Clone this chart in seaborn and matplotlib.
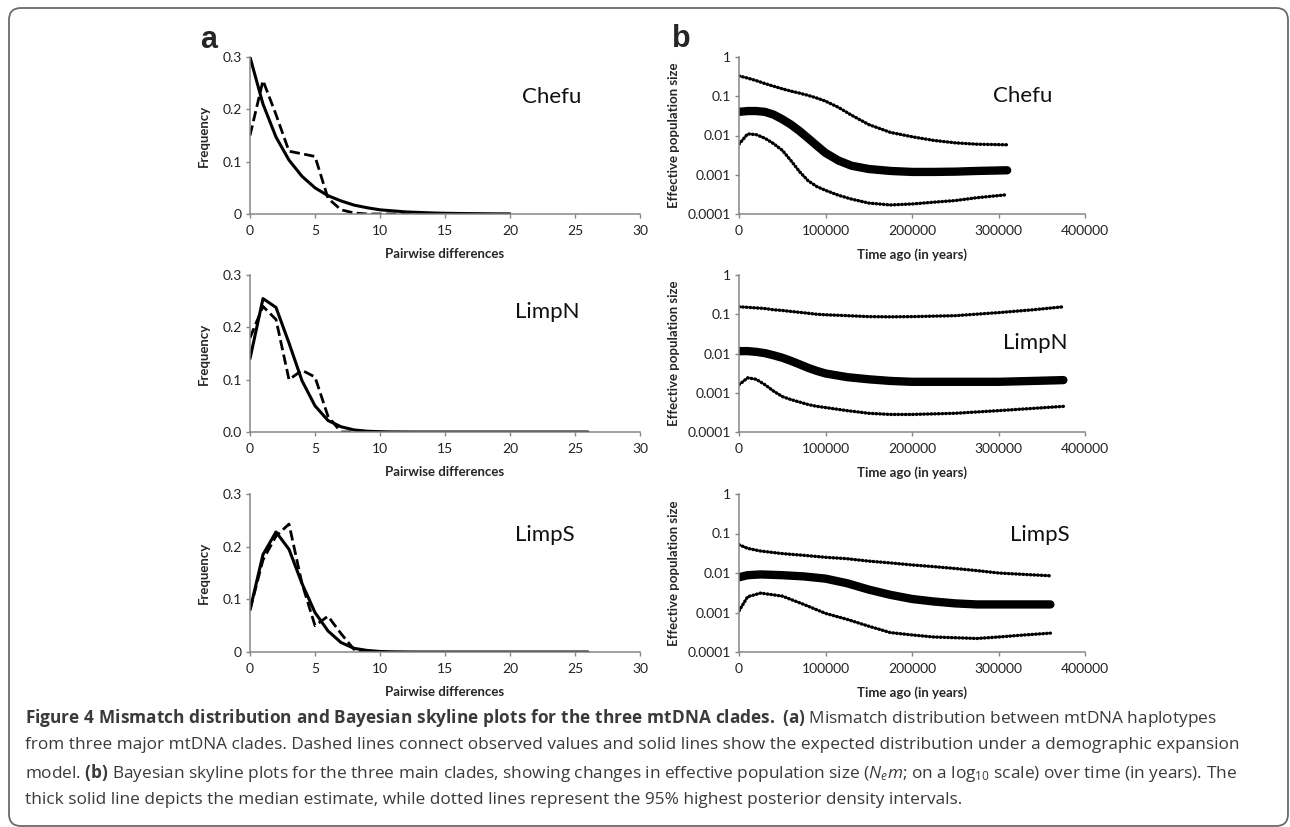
import matplotlib
matplotlib.use("Agg")
import matplotlib.pyplot as plt
import seaborn as sns
from matplotlib.patches import FancyBboxPatch
from matplotlib.ticker import NullLocator
from matplotlib.transforms import IdentityTransform

# ---- panel a: mismatch distributions (frequency per number of pairwise differences)
chefu_obs = [0.15, 0.255, 0.19, 0.12, 0.115, 0.11, 0.03, 0.008, 0.002, 0.0,
             0.0, 0.0, 0.0, 0.0, 0.0, 0.0]
chefu_exp = [0.30, 0.21, 0.147, 0.103, 0.072, 0.05, 0.035, 0.025, 0.017, 0.012,
             0.008, 0.006, 0.004, 0.003, 0.002, 0.0014, 0.001, 0.0007, 0.0005,
             0.0003, 0.0002]
limpn_obs = [0.18, 0.24, 0.215, 0.10, 0.118, 0.105, 0.03, 0.0, 0.0, 0.0, 0.0]
limpn_exp = [0.14, 0.255, 0.238, 0.17, 0.098, 0.05, 0.022, 0.01, 0.004, 0.0015,
             0.0006, 0.0002, 0.0001, 0.0, 0.0, 0.0, 0.0, 0.0, 0.0, 0.0, 0.0,
             0.0, 0.0, 0.0, 0.0, 0.0, 0.0]
limps_obs = [0.08, 0.175, 0.22, 0.243, 0.13, 0.05, 0.068, 0.035, 0.005, 0.0, 0.0]
limps_exp = [0.08, 0.185, 0.228, 0.195, 0.13, 0.075, 0.04, 0.018, 0.007, 0.003,
             0.001, 0.0004, 0.0001, 0.0, 0.0, 0.0, 0.0, 0.0, 0.0, 0.0, 0.0,
             0.0, 0.0, 0.0, 0.0, 0.0, 0.0]

# ---- panel b: Bayesian skyline (time ago in years, Ne*m)
chefu_t = [0, 10000, 20000, 30000, 40000, 50000, 60000, 70000, 80000, 90000,
           100000, 115000, 130000, 150000, 175000, 200000, 225000, 250000,
           275000, 310000]
chefu_hi = [0.33, 0.29, 0.25, 0.21, 0.18, 0.155, 0.135, 0.12, 0.105, 0.09,
            0.075, 0.052, 0.033, 0.019, 0.012, 0.0093, 0.0075, 0.0065, 0.006, 0.0058]
chefu_med = [0.04, 0.042, 0.042, 0.04, 0.034, 0.026, 0.019, 0.013, 0.0085, 0.0055,
             0.0036, 0.0023, 0.0017, 0.0014, 0.00125, 0.00118, 0.00118, 0.0012,
             0.00125, 0.0013]
chefu_lo = [0.006, 0.011, 0.0105, 0.0085, 0.0062, 0.0042, 0.0023, 0.0012, 0.0007,
            0.0005, 0.0004, 0.0003, 0.00024, 0.00019, 0.00017, 0.00018, 0.0002,
            0.00022, 0.00026, 0.00031]

limpn_t = [0, 10000, 20000, 30000, 40000, 50000, 60000, 70000, 80000, 90000,
           100000, 125000, 150000, 175000, 200000, 250000, 300000, 340000, 375000]
limpn_hi = [0.155, 0.15, 0.145, 0.14, 0.13, 0.125, 0.118, 0.112, 0.106, 0.10,
            0.097, 0.092, 0.087, 0.086, 0.087, 0.092, 0.11, 0.13, 0.155]
limpn_med = [0.0115, 0.0115, 0.011, 0.0102, 0.009, 0.0078, 0.0065, 0.0053, 0.0043,
             0.0036, 0.0031, 0.0025, 0.0022, 0.002, 0.0019, 0.0019, 0.0019, 0.002, 0.0021]
limpn_lo = [0.0016, 0.0024, 0.0022, 0.0016, 0.0011, 0.0008, 0.00067, 0.00058, 0.0005,
            0.00045, 0.00042, 0.00035, 0.0003, 0.00028, 0.00028, 0.0003, 0.00035,
            0.0004, 0.00045]

limps_t = [0, 10000, 25000, 50000, 75000, 100000, 125000, 150000, 175000, 200000,
           225000, 250000, 275000, 300000, 330000, 360000]
limps_hi = [0.052, 0.042, 0.036, 0.031, 0.028, 0.025, 0.023, 0.02, 0.018, 0.016,
            0.0145, 0.013, 0.0115, 0.01, 0.0092, 0.0085]
limps_med = [0.0078, 0.0088, 0.0092, 0.0088, 0.0082, 0.0072, 0.0055, 0.0038, 0.0028,
             0.0022, 0.0019, 0.0017, 0.0016, 0.0016, 0.0016, 0.0016]
limps_lo = [0.0011, 0.0025, 0.0031, 0.0026, 0.0016, 0.00095, 0.00067, 0.00045,
            0.00031, 0.00027, 0.00024, 0.00023, 0.00022, 0.00024, 0.00027, 0.0003]

clades = ["Chefu", "LimpN", "LimpS"]
freq_labels = [["0", "0.1", "0.2", "0.3"], ["0.0", "0.1", "0.2", "0.3"],
               ["0", "0.1", "0.2", "0.3"]]

sns.set_style("white")
plt.rcParams["font.family"] = ["Lato", "DejaVu Sans"]
plt.rcParams["mathtext.fontset"] = "custom"
plt.rcParams["mathtext.rm"] = "Open Sans"
plt.rcParams["mathtext.it"] = "Open Sans:italic"
plt.rcParams["mathtext.bf"] = "Open Sans:bold"

W, H = 1290, 827
fig = plt.figure(figsize=(W / 100, H / 100), dpi=100)
fig.patch.set_facecolor("white")

AXC = "#868686"


def px_axes(l, t, r, b):
    return fig.add_axes([l / W, 1 - b / H, (r - l) / W, (b - t) / H])


def style_axes(ax):
    for s in ["top", "right"]:
        ax.spines[s].set_visible(False)
    for s in ["left", "bottom"]:
        ax.spines[s].set_color(AXC)
        ax.spines[s].set_linewidth(1.1)
    ax.tick_params(direction="out", length=3, width=1, color=AXC,
                   labelsize=10, labelcolor="#222222", left=True, bottom=True)
    ax.tick_params(axis="x", pad=5)
    ax.tick_params(axis="y", pad=3)


def dotted(ax, x, y, lw=2.4):
    sns.lineplot(x=x, y=y, ax=ax, color="black", lw=lw)
    line = ax.lines[-1]
    line.set_dashes([0.2, 0.9])
    line.set_dash_capstyle("round")


rows = [(57, 214), (275, 432), (494, 652)]
obs_all = [chefu_obs, limpn_obs, limps_obs]
exp_all = [chefu_exp, limpn_exp, limps_exp]
sky_all = [(chefu_t, chefu_hi, chefu_med, chefu_lo),
           (limpn_t, limpn_hi, limpn_med, limpn_lo),
           (limps_t, limps_hi, limps_med, limps_lo)]
name_pos_a = [(522, 97), (515, 312), (515, 535)]
name_pos_b = [(993, 96), (1003, 343), (1010, 535)]
LABEL_FS = 9.5

for i, (top, bot) in enumerate(rows):
    h = bot - top
    # --- mismatch distribution
    ax = px_axes(250, top, 640, bot)
    sns.lineplot(x=list(range(len(obs_all[i]))), y=obs_all[i], ax=ax,
                 color="black", lw=2.0, linestyle="--")
    sns.lineplot(x=list(range(len(exp_all[i]))), y=exp_all[i], ax=ax,
                 color="black", lw=2.2)
    ax.set_xlim(0, 30)
    ax.set_ylim(0, 0.3)
    ax.set_xticks(range(0, 31, 5))
    ax.set_yticks([0, 0.1, 0.2, 0.3])
    ax.set_yticklabels(freq_labels[i])
    style_axes(ax)
    ax.set_xlabel("Pairwise differences", fontsize=LABEL_FS, fontweight="bold")
    ax.set_ylabel("Frequency", fontsize=LABEL_FS, fontweight="bold")
    ax.xaxis.set_label_coords(0.5, -34 / h)
    ax.yaxis.set_label_coords(-(250 - 210) / 390, 0.5)

    # --- skyline plot
    bx = px_axes(739, top, 1085, bot)
    t, hi, med, lo = sky_all[i]
    dotted(bx, t, hi)
    sns.lineplot(x=t, y=med, ax=bx, color="black", lw=6.0, solid_capstyle="round")
    dotted(bx, t, lo)
    bx.set_yscale("log")
    bx.set_ylim(1e-4, 1)
    bx.set_xlim(0, 400000)
    bx.set_xticks([0, 100000, 200000, 300000, 400000])
    bx.set_xticklabels(["0", "100000", "200000", "300000", "400000"])
    bx.set_yticks([1e-4, 1e-3, 1e-2, 1e-1, 1])
    bx.set_yticklabels(["0.0001", "0.001", "0.01", "0.1", "1"])
    bx.yaxis.set_minor_locator(NullLocator())
    style_axes(bx)
    bx.set_xlabel("Time ago (in years)", fontsize=LABEL_FS, fontweight="bold")
    bx.set_ylabel("Effective population size", fontsize=LABEL_FS, fontweight="bold")
    bx.xaxis.set_label_coords(0.5, -34 / h)
    bx.yaxis.set_label_coords(-(739 - 680) / 346, 0.5)

    xa, ya = name_pos_a[i]
    fig.text(xa / W, 1 - ya / H, clades[i], fontsize=16, va="center", ha="left",
             color="#111111")
    xb, yb = name_pos_b[i]
    fig.text(xb / W, 1 - yb / H, clades[i], fontsize=16, va="center", ha="left",
             color="#111111")

# panel letters
fig.text(200 / W, 1 - 48 / H, "a", fontsize=22, fontweight="bold",
         family="Liberation Sans", va="baseline")
fig.text(672 / W, 1 - 47 / H, "b", fontsize=22, fontweight="bold",
         family="Liberation Sans", va="baseline")


def bf(s):
    return r"$\mathbf{" + s.replace(" ", r"\ ") + "}$"


cap = [
    bf("Figure 4 Mismatch distribution and Bayesian skyline plots for the three mtDNA clades. (a)")
    + " Mismatch distribution between mtDNA haplotypes",
    "from three major mtDNA clades. Dashed lines connect observed values and solid lines "
    "show the expected distribution under a demographic expansion",
    "model. " + bf("(b)") + " Bayesian skyline plots for the three main clades, showing "
    "changes in effective population size ($\\mathit{N_e m}$; on a log$_{10}$ scale) "
    "over time (in years). The",
    "thick solid line depicts the median estimate, while dotted lines represent the 95% "
    "highest posterior density intervals.",
]
for k, line in enumerate(cap):
    fig.text(25 / W, 1 - (718 + 27.3 * k) / H, line, fontsize=12.4, va="center",
             ha="left", color="#3a3a3a", family="Open Sans")

# rounded frame around figure + caption
frame = FancyBboxPatch((9, 1), 1279, 818, boxstyle="round,pad=0,rounding_size=12",
                       transform=IdentityTransform(), fill=False,
                       edgecolor="#6a6a6a", linewidth=1.3)
fig.patches.append(frame)

fig.savefig("out.png", dpi=100)
